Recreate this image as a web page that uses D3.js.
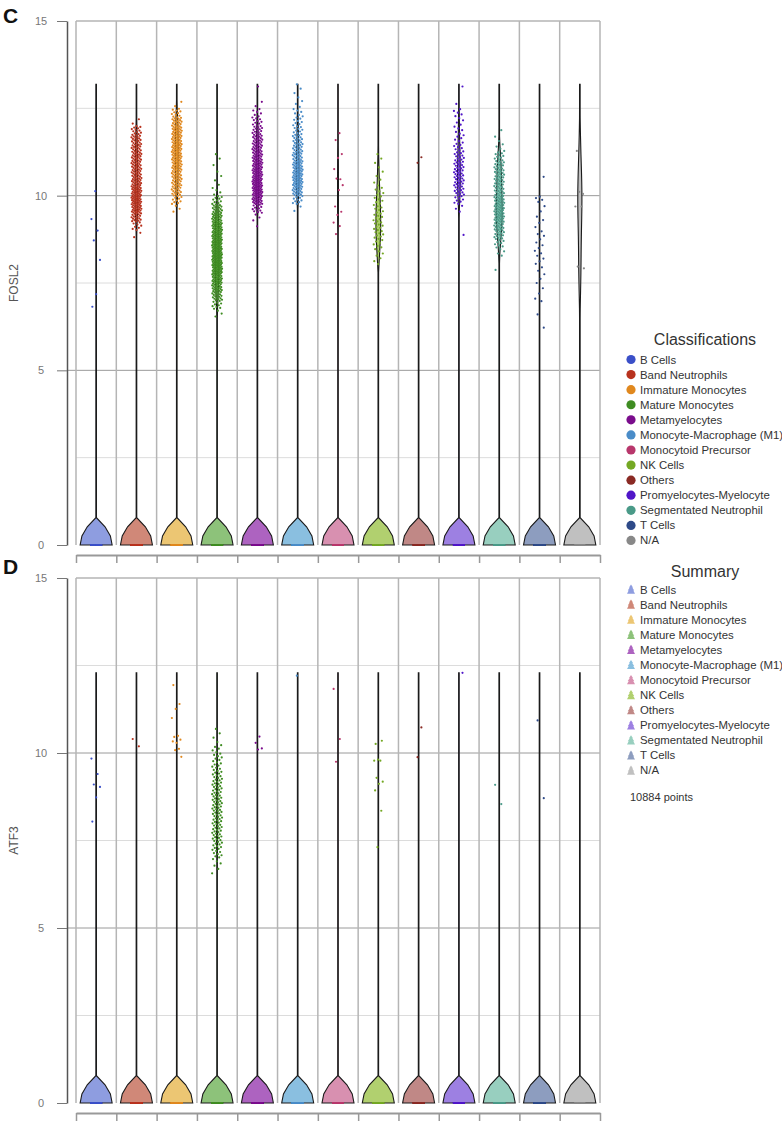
<!DOCTYPE html>
<html><head><meta charset="utf-8">
<script src="https://cdn.jsdelivr.net/npm/d3@7"></script>
<style>
body{margin:0;background:#fff;}
text{font-family:Arial,"Liberation Sans",Helvetica,sans-serif;}
</style>
</head><body>
<svg id="chart" width="782" height="1124"></svg>
<script>
// ---------------- DATA ----------------
const categories = ["B Cells","Band Neutrophils","Immature Monocytes","Mature Monocytes","Metamyelocytes",
  "Monocyte-Macrophage (M1)","Monocytoid Precursor","NK Cells","Others","Promyelocytes-Myelocyte",
  "Segmentated Neutrophil","T Cells","N/A"];
const pointColors = ["#3a4fc8","#b8321e","#e0881e","#3f8c22","#7a0c8c","#4a8cc8","#b8376c","#74a824",
  "#8a2a24","#5016c8","#4a9a88","#2e4a88","#888888"];
const violinColors = ["#8e9de0","#d08878","#ecc673","#8dc27a","#ad63c0","#8abfe0","#d890b0","#b1d06f",
  "#c08886","#9d80e2","#98cfbf","#8d9dbf","#c0c0c0"];
// total cells per classification (most are zero-expression)
const cellCounts = [800,1500,1290,1480,1490,1260,200,273,294,730,644,900,23];
const yTicks = [0,5,10,15];
const binWidth = 0.25;

// FOSL2: individually read values (sparse groups)
const fosl2Values = [
  [10.13,9.33,9.0,8.72,8.16,7.18,6.82],
  [],[],[],[],[],
  [11.79,11.59,11.19,11.08,10.76,10.47,10.49,10.30,10.16,9.69,9.54,9.45,9.23,9.13,8.90],
  [],
  [11.10,10.94],
  [],[],
  [10.54,9.97,9.93,9.88,9.82,9.70,9.55,9.40,9.30,9.22,9.10,8.98,8.90,8.85,8.75,8.66,8.58,8.50,8.42,
   8.35,8.28,8.20,8.12,8.05,7.95,7.85,7.75,7.62,7.50,7.35,7.20,7.05,6.98,6.60,6.22],
  [11.28,10.05,10.11,9.69,9.69,7.97,7.92]
];
// FOSL2: dense groups read as counts per 0.25 bin, starting at fosl2BinLow
const fosl2BinLow = [null,8.75,9.5,6.5,9.0,9.5,null,8.0,null,8.75,7.75,null,null];
const fosl2BinCounts = [
  [],
  [2,8,18,25,28,26,22,20,20,20,18,17,12,2],
  [3,10,16,18,20,22,24,24,22,22,18,10,2],
  [3,10,18,24,28,32,34,34,32,30,28,24,18,10,4,2,2,1,2],
  [1,3,12,24,28,28,26,24,22,20,18,14,10,6,2,0,1],
  [2,10,20,24,24,22,18,16,14,10,8,6,3,2,2],
  [],
  [3,4,6,8,8,8,7,6,5,3,2,2,2],
  [],
  [1,0,0,3,8,12,14,14,13,11,8,6,5,4,5,1,0,1],
  [1,0,4,8,14,18,22,22,20,16,16,16,14,10,4,2,1],
  [],[]
];

// ATF3
const atf3Values = [
  [9.84,9.40,9.10,9.03,8.73,8.04],
  [10.40,10.19],
  [11.94,11.40,11.26,11.00,10.49,10.46,10.38,10.29,10.33,10.12,10.08,9.89],
  [],
  [10.47,10.29,10.13,10.10],
  [12.21],
  [11.83,10.40,9.75],
  [10.26,10.35,9.81,9.78,9.78,9.29,9.18,9.12,8.93,8.35,7.31],
  [10.73,9.88],
  [12.29],
  [9.09,8.54],
  [10.93,8.71],
  []
];
const atf3BinLow = [null,null,null,6.5,null,null,null,null,null,null,null,null,null];
const atf3BinCounts = [[],[],[],[2,4,8,10,12,12,12,13,13,12,12,10,8,7,5,2,2],[],[],[],[],[],[],[],[],[]];

// ---------------- DRAW ----------------
const svg = d3.select("#chart");
const X0 = 76, X1 = 600, AXIS_X = 67;
const x = d3.scaleBand().domain(categories).range([X0, X1]).padding(0);
const xIdx = d3.scaleLinear().domain([0, categories.length]).range([X0, X1]);
const color = d3.scaleOrdinal().domain(categories).range(pointColors);
const vcolor = d3.scaleOrdinal().domain(categories).range(violinColors);

function expandValues(vals, low, counts) {
  const out = vals.slice();
  if (low !== null && counts.length) {
    counts.forEach((n, b) => {
      for (let k = 0; k < n; k++) out.push(low + b * binWidth + binWidth * (k + 0.5) / n);
    });
  }
  return out;
}

function profile(zeros, vals, gmax) {
  const h0 = 0.78;
  const n = vals.length;
  let h = 0.5;
  if (n > 1) h = 1.06 * d3.deviation(vals) * Math.pow(n, -0.2);
  const grid = [];
  for (let v = 0; v < gmax - 1e-6; v += 0.26) grid.push(v);
  grid.push(gmax);
  const dens = grid.map(v => {
    const u0 = v / h0;
    let d = Math.abs(u0) < 1 ? zeros * 0.75 * (1 - u0 * u0) / h0 : 0;
    for (const xv of vals) { const u = (v - xv) / h; d += Math.exp(-0.5 * u * u) / (Math.sqrt(2 * Math.PI) * h); }
    return d;
  });
  const mx = d3.max(dens);
  return grid.map((v, i) => [v, dens[i] / mx]);
}

function jit(i) { return (((i * 0.6180339887 + 0.31) % 1) - 0.5) * 2 * 5.0; }

function drawPanel(cfg) {
  const g = svg.append("g");
  const y = d3.scaleLinear().domain([0, 15]).range([cfg.bottom, cfg.top]);
  const groups = categories.map((c, i) => ({
    cat: c, i,
    vals: expandValues(cfg.values[i], cfg.binLow[i], cfg.binCounts[i])
  }));
  groups.forEach(gr => gr.zeros = cellCounts[gr.i] - gr.vals.length);
  const gmax = d3.max(groups, gr => d3.max(gr.vals) || 0);

  // minor gridlines
  g.selectAll(".minor").data([2.5, 7.5, 12.5]).join("line")
    .attr("x1", X0).attr("x2", X1).attr("y1", d => y(d)).attr("y2", d => y(d))
    .attr("stroke", "#dcdcdc").attr("stroke-width", 1);
  // major gridlines
  g.selectAll(".major").data([5, 10]).join("line")
    .attr("x1", AXIS_X).attr("x2", X1).attr("y1", d => y(d)).attr("y2", d => y(d))
    .attr("stroke", "#9a9a9a").attr("stroke-width", 1);
  // top border
  g.append("line").attr("x1", X0).attr("x2", X1).attr("y1", y(15)).attr("y2", y(15))
    .attr("stroke", "#b5b5b5").attr("stroke-width", 1.5);
  // column separators
  g.selectAll(".sep").data(d3.range(categories.length + 1)).join("line")
    .attr("x1", d => xIdx(d)).attr("x2", d => xIdx(d)).attr("y1", y(15)).attr("y2", y(0))
    .attr("stroke", "#b5b5b5").attr("stroke-width", 1.5);

  // y axis
  const ya = g.append("g").attr("transform", `translate(${AXIS_X},0)`)
    .call(d3.axisLeft(y).tickValues(yTicks).tickSize(10).tickSizeOuter(0).tickPadding(0));
  ya.select(".domain").attr("stroke", "#555").attr("stroke-width", 1.5);
  ya.selectAll(".tick line").attr("stroke", "#777");
  ya.selectAll(".tick text").attr("x", -26).attr("text-anchor", "middle")
    .attr("fill", "#777").style("font-size", "11px");

  // x axis
  const xa = g.append("g").attr("transform", `translate(0,${cfg.xAxisY})`)
    .call(d3.axisBottom(xIdx).tickValues(d3.range(categories.length + 1)).tickFormat("").tickSize(8).tickSizeOuter(0));
  xa.select(".domain").attr("stroke", "#999").attr("stroke-width", 2);
  xa.selectAll(".tick line").attr("stroke", "#999").attr("stroke-width", 1.5);

  // violins
  const maxHW = 16;
  groups.forEach(gr => {
    const cx = x(gr.cat) + x.bandwidth() / 2;
    const prof = profile(gr.zeros, gr.vals, gmax);
    const area = d3.area()
      .x0(d => cx - Math.max(0.3, d[1] * maxHW))
      .x1(d => cx + Math.max(0.3, d[1] * maxHW))
      .y(d => y(d[0]));
    g.append("path").attr("d", area(prof)).attr("fill", vcolor(gr.cat)).attr("stroke", "#1a1a1a")
      .attr("stroke-width", 1.1).attr("stroke-linejoin", "miter");
  });

  // points (zeros + expressed values)
  groups.forEach(gr => {
    const cx = x(gr.cat) + x.bandwidth() / 2;
    const pts = [];
    for (let k = 0; k < gr.zeros; k++) pts.push(0);
    gr.vals.forEach(v => pts.push(v));
    g.append("g").selectAll("circle").data(pts).join("circle")
      .attr("cx", (d, k) => cx + jit(k))
      .attr("cy", d => y(d))
      .attr("r", 1.1)
      .attr("fill", color(gr.cat));
  });

  // panel letter
  svg.append("text").attr("x", 3).attr("y", cfg.letterY).text(cfg.letter)
    .style("font-size", "21px").style("font-weight", "bold").attr("fill", "#111");
  // y label
  svg.append("text").attr("transform", `translate(18,${(cfg.top + cfg.bottom) / 2}) rotate(-90)`)
    .attr("text-anchor", "middle").text(cfg.gene).style("font-size", "12px").attr("fill", "#555");
}

drawPanel({top: 21, bottom: 545, xAxisY: 555, letter: "C", letterY: 23, gene: "FOSL2",
  values: fosl2Values, binLow: fosl2BinLow, binCounts: fosl2BinCounts});
drawPanel({top: 578, bottom: 1103, xAxisY: 1113, letter: "D", letterY: 574, gene: "ATF3",
  values: atf3Values, binLow: atf3BinLow, binCounts: atf3BinCounts});

// ---------------- LEGENDS ----------------
const LX = 631, STEP = 15.08, FS = "11.4px";
svg.append("text").attr("x", 705).attr("y", 345).attr("text-anchor", "middle")
  .text("Classifications").style("font-size", "16px").attr("fill", "#333");
const l1 = svg.append("g");
categories.forEach((c, i) => {
  const yy = 359.5 + i * STEP;
  l1.append("circle").attr("cx", LX).attr("cy", yy).attr("r", 4.6).attr("fill", color(c));
  l1.append("text").attr("x", 640).attr("y", yy + 4).text(c).style("font-size", FS).attr("fill", "#333");
});

svg.append("text").attr("x", 705).attr("y", 577).attr("text-anchor", "middle")
  .text("Summary").style("font-size", "16px").attr("fill", "#333");
const l2 = svg.append("g");
const glyph = "M0,-5 L2,-2 L1.3,-2 L3.2,1 L2.3,1 L4,4.2 L-4,4.2 L-2.3,1 L-3.2,1 L-1.3,-2 L-2,-2 Z";
categories.forEach((c, i) => {
  const yy = 589.5 + i * STEP;
  l2.append("path").attr("d", glyph).attr("transform", `translate(${LX},${yy})`).attr("fill", vcolor(c));
  l2.append("text").attr("x", 640).attr("y", yy + 4).text(c).style("font-size", FS).attr("fill", "#333");
});
svg.append("text").attr("x", 630).attr("y", 801).text(d3.sum(cellCounts) + " points")
  .style("font-size", "11px").attr("fill", "#333");
</script>
</body></html>
